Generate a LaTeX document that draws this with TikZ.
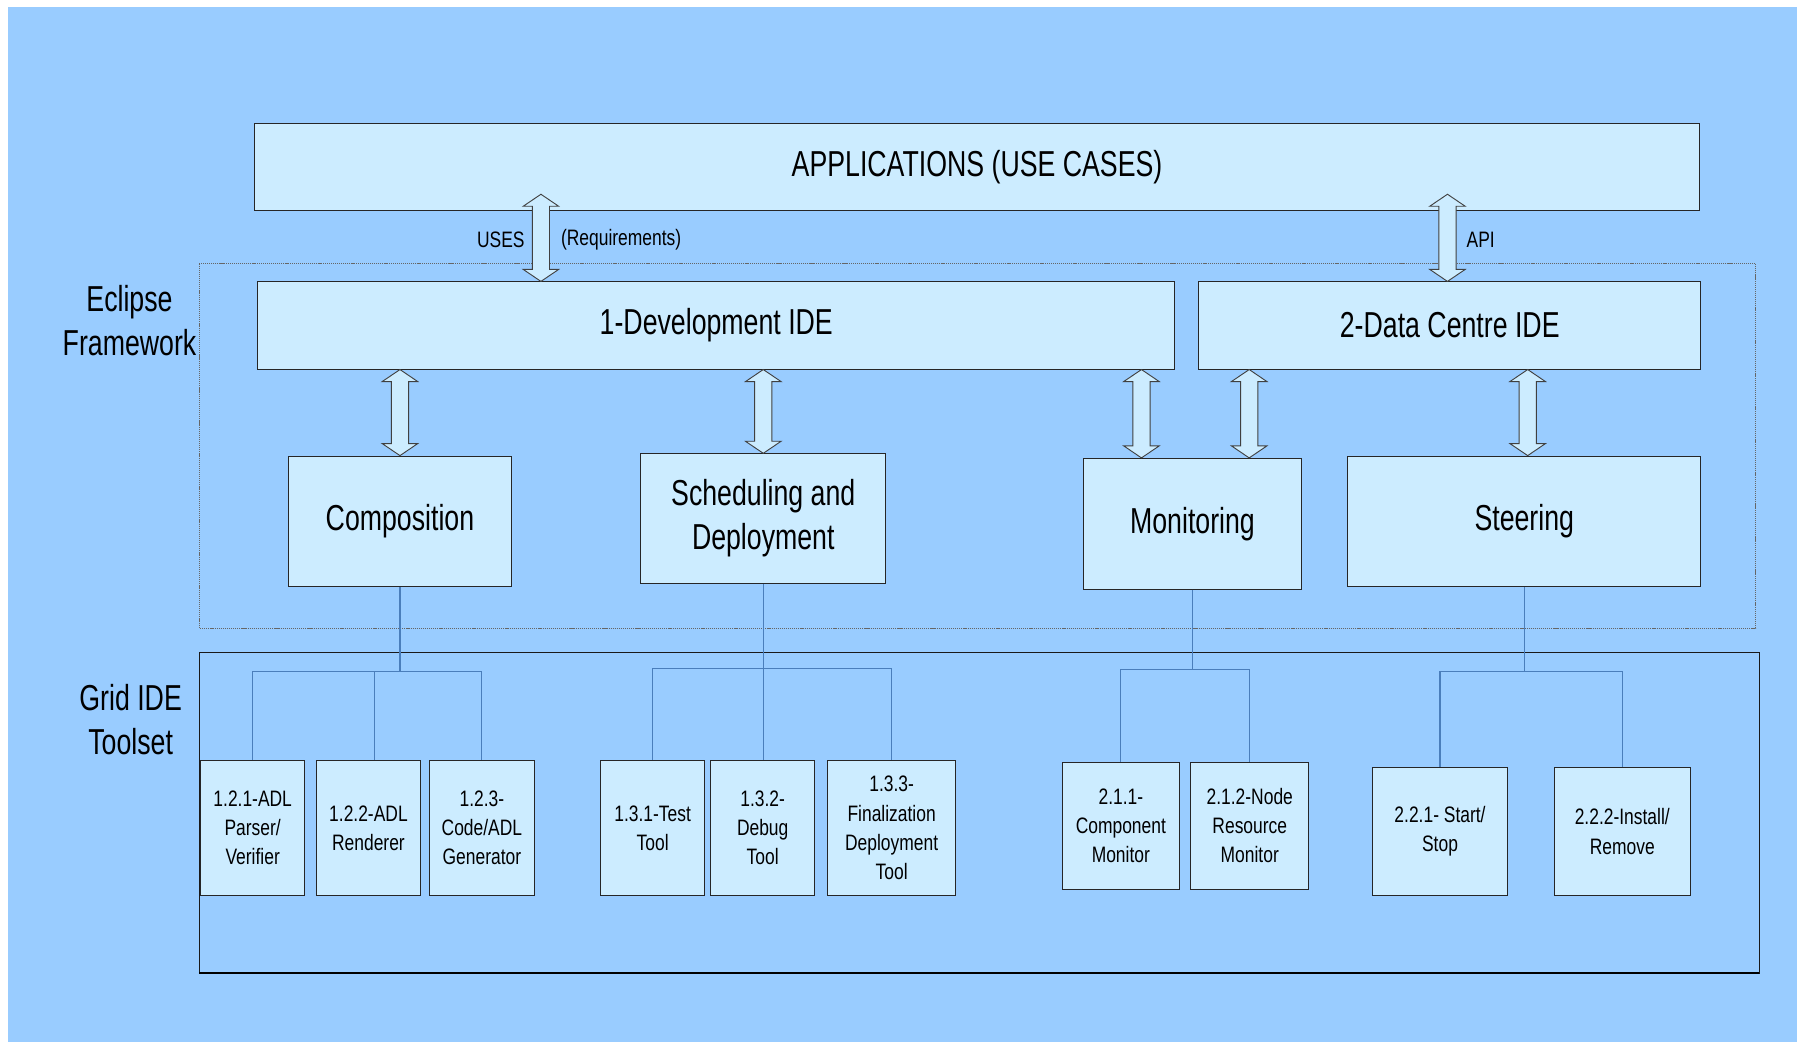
\documentclass[tikz,border=0pt]{standalone}
\usepackage{fontspec}
\setmainfont[FakeStretch=0.78]{Liberation Sans}
\newfontfamily\bigfam[FakeStretch=0.74]{Liberation Sans}
\usetikzlibrary{calc}
\definecolor{bg}{RGB}{153,204,255}
\definecolor{boxfill}{RGB}{204,236,255}
\definecolor{treeline}{RGB}{74,126,187}
\begin{document}
\begin{tikzpicture}[x=1pt,y=-1pt,
  box/.style={draw=black!85, line width=0.9pt, fill=boxfill, inner sep=0pt, align=center},
  big/.style={font=\bigfam\fontsize{31.5}{38.5}\selectfont},
  small/.style={font=\fontsize{19.5}{25.5}\selectfont},
  lbl/.style={inner sep=0pt, align=center},
  tree/.style={draw=treeline, line width=1pt},
  dblarrow/.style={draw=black!75, line width=0.8pt, fill=boxfill,
    to path={let \p1=(\tikztostart), \p2=(\tikztotarget) in
      (\x1,\y1) -- (\x1+15.5pt,\y1-10.5pt) -- (\x1+7.5pt,\y1-10.5pt)
      -- (\x2+7.5pt,\y2+10.5pt) -- (\x2+15.5pt,\y2+10.5pt) -- (\x2,\y2)
      -- (\x2-15.5pt,\y2+10.5pt) -- (\x2-7.5pt,\y2+10.5pt)
      -- (\x1-7.5pt,\y1-10.5pt) -- (\x1-15.5pt,\y1-10.5pt) -- cycle}}
]
\useasboundingbox (0,0) rectangle (1568,909);
\fill[white] (0,0) rectangle (1568,909);
\fill[bg] (7,6) rectangle (1568,909);

% frames
\draw[black!60, line width=0.8pt, dash pattern=on 1pt off 0.8pt] (174,230) rectangle (1532,548);
\draw[black!90, line width=1pt] (174,569) rectangle (1535,849);
\draw[black, line width=1.6pt] (174,849) -- (1535,849);

% side labels
\node[lbl, big] (eclab) at (113,280) {Eclipse\\Framework};
\node[lbl, big] (gridlab) at (114,628) {Grid IDE\\Toolset};

% top level
\node[box, big, minimum width=1261pt, minimum height=76pt] (apps) at (852.5,146) {APPLICATIONS (USE CASES)};
\node[box, big, minimum width=800pt, minimum height=76pt] (dev) at (625,284) {1-Development IDE};
\node[box, big, minimum width=438pt, minimum height=76pt] (dc) at (1265,284) {2-Data Centre IDE};

% components
\node[box, big, minimum width=194pt, minimum height=114pt] (comp) at (349,455) {Composition};
\node[box, big, minimum width=214pt, minimum height=113pt] (sched) at (666,452.5) {Scheduling and\\Deployment};
\node[box, big, minimum width=191pt, minimum height=114pt] (mon) at (1040.5,457) {Monitoring};
\node[box, big, minimum width=308pt, minimum height=114pt] (steer) at (1330,455) {Steering};

% leaves
\node[box, small, minimum width=91pt, minimum height=117pt] (l121) at (220.5,722.5) {1.2.1-ADL\\Parser/\\Verifier};
\node[box, small, minimum width=91pt, minimum height=117pt] (l122) at (321.5,722.5) {1.2.2-ADL\\Renderer};
\node[box, small, minimum width=91pt, minimum height=117pt] (l123) at (420.5,722.5) {1.2.3-\\Code/ADL\\Generator};
\node[box, small, minimum width=91pt, minimum height=117pt] (l131) at (569.5,722.5) {1.3.1-Test\\Tool};
\node[box, small, minimum width=91pt, minimum height=117pt] (l132) at (665.5,722.5) {1.3.2-\\Debug\\Tool};
\node[box, small, minimum width=112pt, minimum height=117pt] (l133) at (778,722.5) {1.3.3-\\Finalization\\Deployment\\Tool};
\node[box, small, minimum width=102pt, minimum height=111pt] (l211) at (978,720.5) {2.1.1-\\Component\\Monitor};
\node[box, small, minimum width=103pt, minimum height=111pt] (l212) at (1090.5,720.5) {2.1.2-Node\\Resource\\Monitor};
\node[box, small, minimum width=117pt, minimum height=111pt] (l221) at (1256.5,725.5) {2.2.1- Start/\\Stop};
\node[box, small, minimum width=119pt, minimum height=111pt] (l222) at (1415.5,725.5) {2.2.2-Install/\\Remove};

% arrow labels
\node[lbl, small] (uses) at (437,209) {USES};
\node[lbl, small] (req) at (542,209) {(Requirements)};
\node[lbl, small] (api) at (1292,209) {API};

% double arrows
\coordinate (uT) at (472,169.5);
\coordinate (aT) at (1263,169.5);
\coordinate (m1) at (996,0);
\coordinate (m2) at (1090,0);
\coordinate (s1) at (1333,0);
\draw[dblarrow] (uT) to (dev.north -| uT);
\draw[dblarrow] (aT) to (dc.north -| aT);
\draw[dblarrow] (dev.south -| comp.north) to (comp.north);
\draw[dblarrow] (dev.south -| sched.north) to (sched.north);
\draw[dblarrow] (dev.south -| m1) to (mon.north -| m1);
\draw[dblarrow] (dc.south -| m2) to (mon.north -| m2);
\draw[dblarrow] (dc.south -| s1) to (steer.north -| s1);

% tree connectors
\coordinate (cj) at (349,586);
\draw[tree] (comp.south) -- (cj);
\draw[tree] (cj) -| (l121.north);
\draw[tree] (cj) -| ([xshift=5pt]l122.north);
\draw[tree] (cj) -| (l123.north);

\coordinate (sj) at (666,583);
\draw[tree] (sched.south) -- (sj);
\draw[tree] (sj) -| (l131.north);
\draw[tree] (sj) -- (l132.north -| sj);
\draw[tree] (sj) -| (l133.north);

\coordinate (mj) at (1040.5,584);
\draw[tree] (mon.south) -- (mj);
\draw[tree] (mj) -| (l211.north);
\draw[tree] (mj) -| (l212.north);

\coordinate (tj) at (1330,586);
\draw[tree] (steer.south) -- (tj);
\draw[tree] (tj) -| (l221.north);
\draw[tree] (tj) -| (l222.north);
\end{tikzpicture}
\end{document}
